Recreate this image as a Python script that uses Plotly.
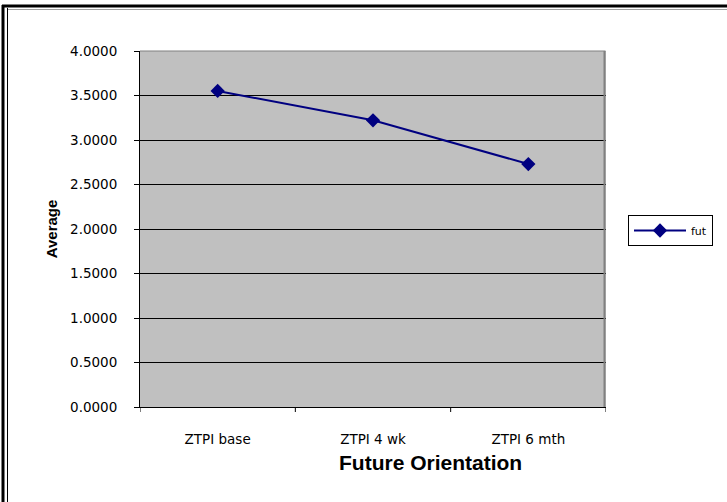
import plotly.graph_objects as go

categories = ["ZTPI base", "ZTPI 4 wk", "ZTPI 6 mth"]
fut_values = [3.551, 3.221, 2.730]
y_tick_values = [0, 0.5, 1, 1.5, 2, 2.5, 3, 3.5, 4]
y_tick_labels = ["0.0000", "0.5000", "1.0000", "1.5000", "2.0000",
                 "2.5000", "3.0000", "3.5000", "4.0000"]

W, H = 727, 502
L, R, T, B = 140, 606, 51, 407

def px(x):
    return (x - L) / (R - L)

def py(y):
    return (B - y) / (B - T)

fig = go.Figure()
fig.add_trace(go.Scatter(
    x=[0, 1, 2], y=fut_values, name="fut", mode="lines+markers",
    line=dict(color="#000080", width=2),
    marker=dict(symbol="diamond", size=11, color="#000080"),
))

font = "Liberation Sans, Arial, sans-serif"
tickfont = dict(family="DejaVu Sans", size=13.5, color="black")
fig.update_layout(
    width=W, height=H,
    margin=dict(l=L, r=W - R, t=T, b=H - B, pad=0, autoexpand=False),
    paper_bgcolor="white", plot_bgcolor="#C0C0C0",
    font=dict(family=font, size=11, color="black"),
    showlegend=True,
    legend=dict(x=px(628), y=py(215), xanchor="left", yanchor="top",
                bordercolor="black", borderwidth=1, bgcolor="white",
                font=dict(size=11, family="DejaVu Sans"), itemwidth=52,
                tracegroupgap=0),
    xaxis=dict(range=[-0.5, 2.5], tickmode="array", tickvals=[0, 1, 2],
               ticktext=categories, showgrid=False, zeroline=False,
               showline=True, linecolor="black", linewidth=1,
               ticks="", ticklabelstandoff=20, mirror=False,
               tickfont=tickfont, fixedrange=True),
    yaxis=dict(range=[0, 4], tickmode="array", tickvals=y_tick_values,
               ticktext=y_tick_labels, showgrid=True, gridcolor="black",
               gridwidth=1, zeroline=False, showline=True,
               linecolor="black", linewidth=1, ticks="outside",
               ticklen=5, tickcolor="black", ticklabelstandoff=14,
               tickfont=tickfont,
               title=dict(text="<b>Average</b>", font=dict(size=15),
                          standoff=8),
               fixedrange=True),
)

# category-boundary tick marks on the x axis
shapes = []
for xb in [-0.5, 0.5, 1.5, 2.5]:
    shapes.append(dict(type="line", xref="x", yref="paper",
                       x0=xb, x1=xb, y0=0, y1=py(412),
                       line=dict(color="black", width=1)))
# plot-area gray border (right & top)
shapes.append(dict(type="line", xref="paper", yref="paper",
                   x0=px(604.5), x1=px(604.5), y0=0, y1=1,
                   line=dict(color="#808080", width=2)))
shapes.append(dict(type="line", xref="paper", yref="paper",
                   x0=0, x1=px(605.5), y0=py(51), y1=py(51),
                   line=dict(color="#808080", width=1)))
# outer frame
shapes.append(dict(type="line", xref="paper", yref="paper",
                   x0=px(3), x1=px(3), y0=py(505), y1=py(5),
                   line=dict(color="black", width=3)))
shapes.append(dict(type="line", xref="paper", yref="paper",
                   x0=px(7.5), x1=px(7.5), y0=py(505), y1=py(8),
                   line=dict(color="black", width=1)))
shapes.append(dict(type="line", xref="paper", yref="paper",
                   x0=px(2), x1=px(730), y0=py(6), y1=py(6),
                   line=dict(color="black", width=3)))
shapes.append(dict(type="line", xref="paper", yref="paper",
                   x0=px(8), x1=px(730), y0=py(9.5), y1=py(9.5),
                   line=dict(color="#A0A0A0", width=1)))
fig.update_layout(shapes=shapes)

fig.add_annotation(text="<b>Future Orientation</b>", xref="paper",
                   yref="paper", x=px(430), y=py(462), showarrow=False,
                   xanchor="center", yanchor="middle",
                   font=dict(size=21, family=font, color="black"))

fig.write_html("out.html")
